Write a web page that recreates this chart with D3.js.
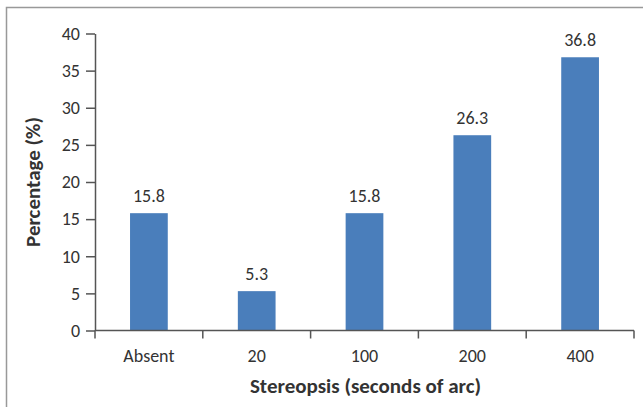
<!DOCTYPE html>
<html><head><meta charset="utf-8">
<script src="https://cdn.jsdelivr.net/npm/d3@7"></script>
<style>body{margin:0;background:#fff}svg{display:block}</style>
</head><body>
<script>
const categories = ["Absent","20","100","200","400"];
const values = [15.8, 5.3, 15.8, 26.3, 36.8];
const yTicks = [0,5,10,15,20,25,30,35,40];
const xTitle = "Stereopsis (seconds of arc)";
const yTitle = "Percentage (%)";

const W = 643, H = 407;
const font = "Carlito, 'Open Sans', 'Noto Sans', sans-serif";
const svg = d3.select("body").append("svg").attr("width", W).attr("height", H);
svg.append("rect").attr("width", W).attr("height", H).attr("fill", "#fff");
svg.append("rect").attr("x", 6.5).attr("y", 7.5).attr("width", 800).attr("height", 600)
  .attr("fill", "none").attr("stroke", "#999").attr("stroke-width", 1.5);

const x0 = 95, x1 = 634, yTop = 33.5, yBot = 330.5;
const x = d3.scaleBand().domain(categories).range([x0, x1]).paddingInner(0.65).paddingOuter(0.325);
const y = d3.scaleLinear().domain([0, 40]).range([yBot, yTop]);

// bars
svg.selectAll("rect.bar").data(values).enter().append("rect")
  .attr("class", "bar")
  .attr("x", (d, i) => x(categories[i]))
  .attr("width", x.bandwidth())
  .attr("y", d => y(d))
  .attr("height", d => y(0) - y(d))
  .attr("fill", "#4a7ebb");

// value labels
svg.selectAll("text.val").data(values).enter().append("text")
  .attr("x", (d, i) => x(categories[i]) + x.bandwidth() / 2)
  .attr("y", d => y(d) - 11)
  .attr("text-anchor", "middle")
  .attr("font-family", font).attr("font-size", 18).attr("fill", "#333")
  .text(d => d.toFixed(1));

// y axis
const yAxis = d3.axisLeft(y).tickValues(yTicks).tickSize(9).tickPadding(6).tickSizeOuter(0);
const gy = svg.append("g").attr("transform", `translate(${x0},0)`).call(yAxis);
gy.select(".domain").attr("stroke", "#555").attr("stroke-width", 1.5);
gy.selectAll(".tick line").attr("stroke", "#555").attr("stroke-width", 1.5);
gy.selectAll(".tick text").attr("font-family", font).attr("font-size", 18).attr("fill", "#333");

// x axis
const xEdges = d3.scaleLinear().domain([0, categories.length]).range([x0, x1]);
const gx = svg.append("g").attr("transform", `translate(0,${yBot})`);
gx.append("line").attr("x1", x0).attr("x2", x1).attr("y1", 0).attr("y2", 0)
  .attr("stroke", "#555").attr("stroke-width", 1.5);
gx.selectAll("line.tk").data(d3.range(categories.length + 1)).enter().append("line")
  .attr("x1", d => xEdges(d)).attr("x2", d => xEdges(d)).attr("y1", 0).attr("y2", 8)
  .attr("stroke", "#555").attr("stroke-width", 1.5);
gx.selectAll("text").data(categories).enter().append("text")
  .attr("x", d => x(d) + x.bandwidth() / 2).attr("y", 31)
  .attr("text-anchor", "middle")
  .attr("font-family", font).attr("font-size", 18).attr("fill", "#333")
  .text(d => d);

// titles
svg.append("text").attr("x", (x0 + x1) / 2 + 1).attr("y", 393)
  .attr("text-anchor", "middle").attr("font-family", font).attr("font-weight", "bold")
  .attr("font-size", 21).attr("fill", "#333").text(xTitle);
svg.append("text").attr("transform", `translate(40,182) rotate(-90)`)
  .attr("text-anchor", "middle").attr("font-family", font).attr("font-weight", "bold")
  .attr("font-size", 21).attr("fill", "#333").text(yTitle);
</script>
</body></html>
